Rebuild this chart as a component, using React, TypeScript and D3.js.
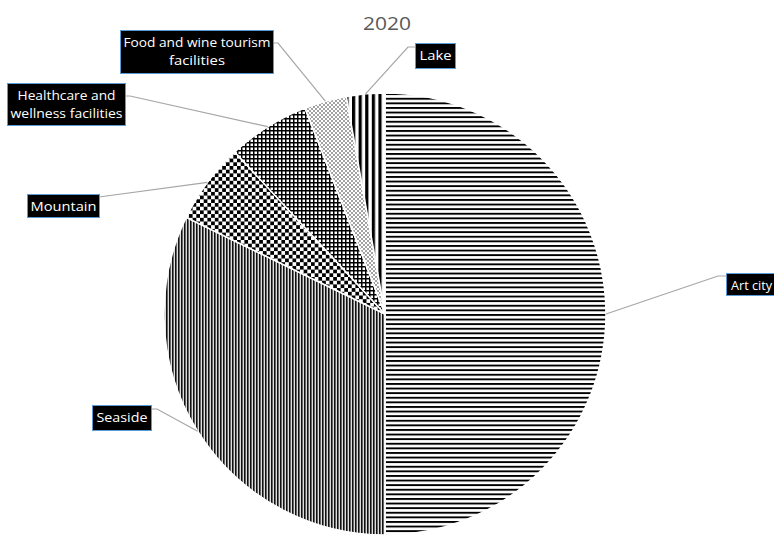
import React from "react";
import * as d3 from "d3";

const title = "2020";
const categories = [
  "Art city",
  "Seaside",
  "Mountain",
  "Healthcare and wellness facilities",
  "Food and wine tourism facilities",
  "Lake",
];
const shares = [50.0, 32.2, 5.9, 6.0, 3.1, 2.8];
const labelLines = [
  ["Art city"],
  ["Seaside"],
  ["Mountain"],
  ["Healthcare and", "wellness facilities"],
  ["Food and wine tourism", "facilities"],
  ["Lake"],
];

// layout of the label boxes (manually placed, like in the original)
const boxLayout = [
  { x: 726, y: 273, w: 50, h: 22, side: "left", ay: 3, elbow: 8, tw: [41] },
  { x: 92, y: 405, w: 59, h: 25, side: "right", ay: 4, elbow: 6, tw: [51] },
  { x: 27, y: 194, w: 72, h: 23, side: "right", ay: 3, elbow: 0, tw: [66] },
  { x: 7, y: 83, w: 118, h: 42, side: "right", ay: 13, elbow: 5, tw: [98, 112] },
  { x: 120, y: 30, w: 153, h: 43, side: "right", ay: 13, elbow: 5, tw: [147, 56] },
  { x: 415, y: 43, w: 40, h: 25, side: "left", ay: 4, elbow: 7, tw: [32] },
];

const patternIds = ["pArt", "pSea", "pMnt", "pHlt", "pFood", "pLake"];

const W = 774;
const H = 537;
const cx = 385;
const cy = 314;
const R = 221;

export default function App() {
  const pie = d3
    .pie<number>()
    .sort(null)
    .value((d) => d)(shares);
  const arc = d3.arc<d3.PieArcDatum<number>>().innerRadius(0).outerRadius(R);
  const edge = d3.arc<d3.PieArcDatum<number>>().innerRadius(R).outerRadius(R);

  return (
    <div style={{ position: "fixed", left: 0, top: 0 }}>
      <svg width={W} height={H} style={{ display: "block", background: "#fff" }}>
        <defs>
          <pattern id="pArt" patternUnits="userSpaceOnUse" width={10} height={4.6}>
            <rect width={10} height={4.6} fill="#fff" />
            <rect y={0} width={10} height={1.9} fill="#000" />
          </pattern>
          <pattern id="pSea" patternUnits="userSpaceOnUse" width={3} height={10}>
            <rect width={3} height={10} fill="#ddd" />
            <rect x={0} width={1} height={10} fill="#111" />
            <rect x={1} width={1} height={10} fill="#666" />
          </pattern>
          <pattern id="pMnt" patternUnits="userSpaceOnUse" width={7.4} height={7.4}>
            <rect width={7.4} height={7.4} fill="#fff" />
            <rect x={0} y={0} width={3.7} height={3.7} fill="#000" />
            <rect x={3.7} y={3.7} width={3.7} height={3.7} fill="#000" />
          </pattern>
          <pattern id="pHlt" patternUnits="userSpaceOnUse" width={4} height={4}>
            <rect width={4} height={4} fill="#fff" />
            <rect x={0} y={0} width={1.5} height={4} fill="#000" />
            <rect x={0} y={0} width={4} height={1.5} fill="#000" />
          </pattern>
          <pattern id="pFood" patternUnits="userSpaceOnUse" width={4} height={4}>
            <rect width={4} height={4} fill="#fff" />
            <rect x={0.4} y={0.4} width={1.2} height={1.2} fill="#000" />
            <rect x={2.4} y={2.4} width={1.2} height={1.2} fill="#000" />
          </pattern>
          <pattern id="pLake" patternUnits="userSpaceOnUse" width={6.6} height={10}>
            <rect width={6.6} height={10} fill="#fff" />
            <rect x={0} width={3.2} height={10} fill="#000" />
          </pattern>
        </defs>

        <text
          x={cx + 2}
          y={30}
          textAnchor="middle"
          fontFamily="'Open Sans', sans-serif"
          fontSize={19}
          fill="#595959"
          textLength={48}
          lengthAdjust="spacingAndGlyphs"
        >
          {title}
        </text>

        <g transform={`translate(${cx},${cy})`}>
          {pie.map((d, i) => (
            <path
              key={categories[i]}
              d={arc(d) || ""}
              fill={`url(#${patternIds[i]})`}
              stroke="#fff"
              strokeWidth={1.5}
            />
          ))}
        </g>

        {pie.map((d, i) => {
          const b = boxLayout[i];
          const [ex, ey] = edge.centroid(d);
          const px = cx + ex;
          const py = cy + ey;
          const ax = b.side === "left" ? b.x : b.x + b.w;
          const ay = b.y + b.ay;
          const elx = b.side === "left" ? ax - b.elbow : ax + b.elbow;
          return (
            <polyline
              key={"l" + i}
              points={`${ax},${ay} ${elx},${ay} ${px},${py}`}
              fill="none"
              stroke="#a6a6a6"
              strokeWidth={1.2}
            />
          );
        })}

        {boxLayout.map((b, i) => {
          const lines = labelLines[i];
          return (
            <g key={"b" + i}>
              <rect
                x={b.x + 0.5}
                y={b.y + 0.5}
                width={b.w}
                height={b.h}
                fill="#000"
                stroke="#5b9bd5"
                strokeWidth={1}
              />
              {lines.map((ln, j) => (
                <text
                  key={j}
                  x={b.x + b.w / 2 + 0.5}
                  y={b.y + 17 + j * 18}
                  textAnchor="middle"
                  fontFamily="'Open Sans', sans-serif"
                  fontSize={13.5}
                  fill="#fff"
                  textLength={b.tw[j]}
                  lengthAdjust="spacingAndGlyphs"
                >
                  {ln}
                </text>
              ))}
            </g>
          );
        })}
      </svg>
    </div>
  );
}
